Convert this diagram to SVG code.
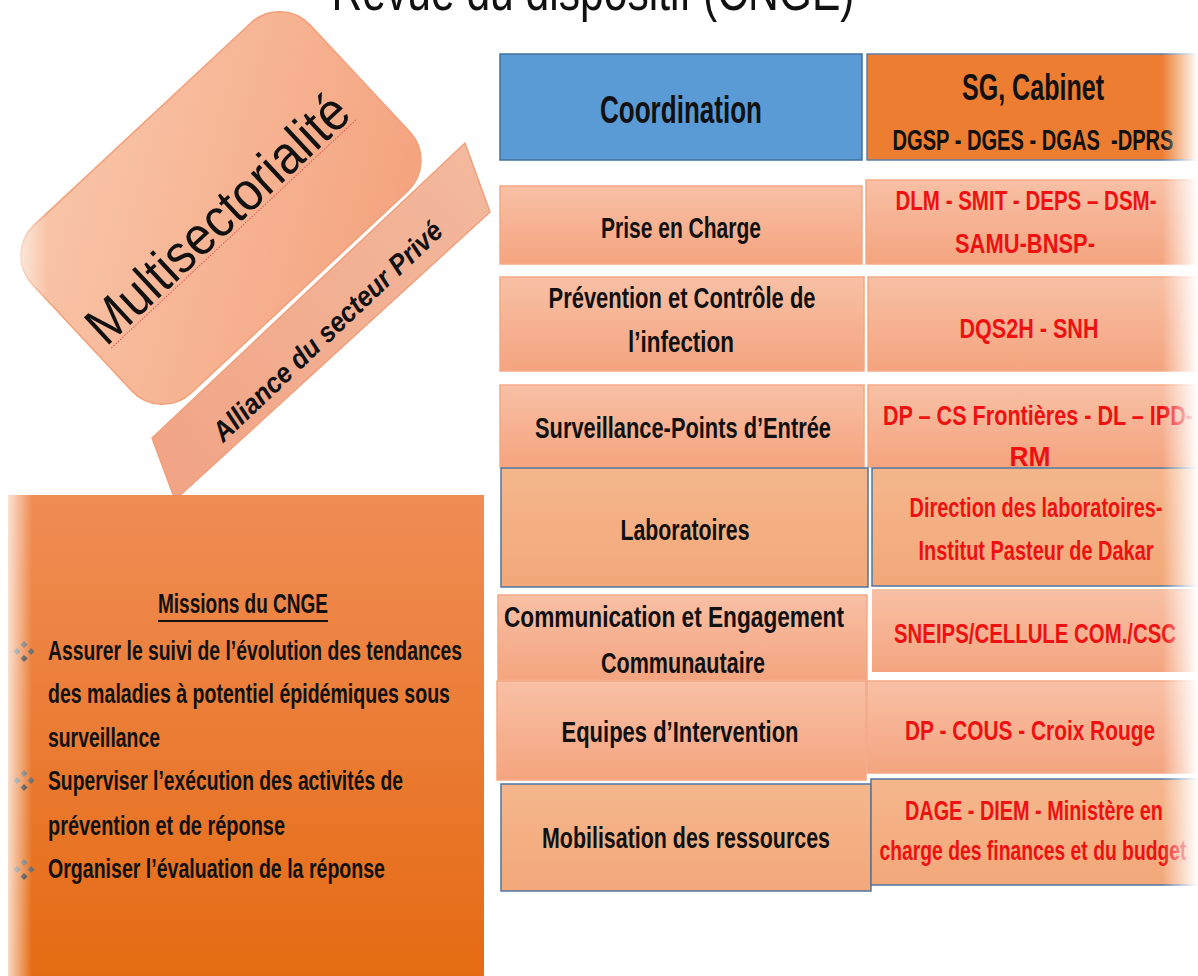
<svg xmlns="http://www.w3.org/2000/svg" width="1198" height="976" viewBox="0 0 1198 976">
<defs>
<linearGradient id="peach" x1="0" y1="0" x2="0" y2="1"><stop offset="0" stop-color="#F8C0A5"/><stop offset="1" stop-color="#F4A47F"/></linearGradient>
<linearGradient id="lab" x1="0" y1="0" x2="0" y2="1"><stop offset="0" stop-color="#F5B68C"/><stop offset="1" stop-color="#F2A879"/></linearGradient>
<linearGradient id="miss" x1="0" y1="0" x2="0" y2="1"><stop offset="0" stop-color="#F08D55"/><stop offset="1" stop-color="#E56A12"/></linearGradient>
<linearGradient id="multi" x1="0" y1="0" x2="1" y2="1"><stop offset="0" stop-color="#F9C7AB"/><stop offset="1" stop-color="#F4A27D"/></linearGradient>
<linearGradient id="alli" x1="1" y1="0" x2="0" y2="1"><stop offset="0" stop-color="#F3B99E"/><stop offset="1" stop-color="#F1A384"/></linearGradient>
<linearGradient id="fadeR" x1="0" y1="0" x2="1" y2="0"><stop offset="0" stop-color="#fff" stop-opacity="0"/><stop offset="1" stop-color="#fff" stop-opacity="1"/></linearGradient>
<linearGradient id="fadeL" x1="0" y1="0" x2="1" y2="0"><stop offset="0" stop-color="#fff" stop-opacity="1"/><stop offset="1" stop-color="#fff" stop-opacity="0"/></linearGradient>
<style>
.t{font-family:"Liberation Sans","Open Sans",sans-serif;fill:#111;}
.b{font-weight:bold;}
.lbl{font-size:29px;text-anchor:middle;font-weight:bold;}
.red{font-family:"Liberation Sans","Open Sans",sans-serif;fill:#EE1111;font-size:28px;text-anchor:middle;font-weight:bold;}
.row{fill:url(#peach);stroke:#F4A984;stroke-width:1.5;}
.rowlab{fill:url(#lab);stroke:#4F75A0;stroke-width:1.5;}
.mis{font-size:27px;font-weight:bold;}
.bd{fill:#6E6E6E;}
</style>
</defs>
<rect width="1198" height="976" fill="#fff"/>

<g id="title">
<text class="t" x="593" y="10" font-size="56" text-anchor="middle" textLength="523" lengthAdjust="spacingAndGlyphs">Revue du dispositif (CNGE)</text>
</g>

<g id="multisectorialite">
<rect x="-190" y="-115" width="380" height="230" rx="42" fill="url(#multi)" stroke="#F2A07A" stroke-width="1.5" transform="translate(221,208) rotate(-43)"/>
<g transform="translate(217,218) rotate(-43)">
<text class="t" x="0" y="19" font-size="54" text-anchor="middle" textLength="338" lengthAdjust="spacingAndGlyphs">Multisectorialité</text>
<line x1="-166" y1="23" x2="169" y2="23" stroke="#E05A5A" stroke-width="1" stroke-dasharray="1.5 1.5"/>
</g>
</g>

<g id="alliance">
<polygon points="152,438 465,143 490,212 175,500" fill="url(#alli)" stroke="#F0A07C" stroke-width="1.5"/>
<text class="t" transform="translate(327,331) rotate(-43.5)" x="0" y="10" font-size="28" font-style="italic" font-weight="bold" text-anchor="middle" textLength="305" lengthAdjust="spacingAndGlyphs">Alliance du secteur Privé</text>
</g>

<g id="missions">
<rect x="8" y="495" width="476" height="490" fill="url(#miss)"/>
<text class="t mis" x="243" y="613" text-anchor="middle" textLength="170" lengthAdjust="spacingAndGlyphs">Missions du CNGE</text>
<line x1="158" y1="621" x2="328" y2="621" stroke="#111" stroke-width="2"/>
<text class="t mis" x="48" y="660" textLength="414" lengthAdjust="spacingAndGlyphs">Assurer le suivi de l’évolution des tendances</text>
<text class="t mis" x="48" y="703" textLength="402" lengthAdjust="spacingAndGlyphs">des maladies à potentiel épidémiques sous</text>
<text class="t mis" x="48" y="747" textLength="112" lengthAdjust="spacingAndGlyphs">surveillance</text>
<text class="t mis" x="48" y="790" textLength="355" lengthAdjust="spacingAndGlyphs">Superviser l’exécution des activités de</text>
<text class="t mis" x="48" y="835" textLength="237" lengthAdjust="spacingAndGlyphs">prévention et de réponse</text>
<text class="t mis" x="48" y="878" textLength="337" lengthAdjust="spacingAndGlyphs">Organiser l’évaluation de la réponse</text>
<g id="bullet1" transform="translate(24,651)"><path class="bd" d="M0,-10 l3.5,3.5 -3.5,3.5 -3.5,-3.5z M-7,-3 l3.5,3.5 -3.5,3.5 -3.5,-3.5z M7,-3 l3.5,3.5 -3.5,3.5 -3.5,-3.5z"/><path fill="#3A3A3A" d="M0,4 l3.5,3.5 -3.5,3.5 -3.5,-3.5z"/></g>
<g id="bullet2" transform="translate(24,780)"><path class="bd" d="M0,-10 l3.5,3.5 -3.5,3.5 -3.5,-3.5z M-7,-3 l3.5,3.5 -3.5,3.5 -3.5,-3.5z M7,-3 l3.5,3.5 -3.5,3.5 -3.5,-3.5z"/><path fill="#3A3A3A" d="M0,4 l3.5,3.5 -3.5,3.5 -3.5,-3.5z"/></g>
<g id="bullet3" transform="translate(24,869)"><path class="bd" d="M0,-10 l3.5,3.5 -3.5,3.5 -3.5,-3.5z M-7,-3 l3.5,3.5 -3.5,3.5 -3.5,-3.5z M7,-3 l3.5,3.5 -3.5,3.5 -3.5,-3.5z"/><path fill="#3A3A3A" d="M0,4 l3.5,3.5 -3.5,3.5 -3.5,-3.5z"/></g>
</g>

<g id="row-coordination">
<rect x="500" y="54" width="362" height="106" fill="#5B9BD5" stroke="#41719C" stroke-width="1.5"/>
<text class="t b" x="681" y="123" font-size="38" text-anchor="middle" textLength="162" lengthAdjust="spacingAndGlyphs">Coordination</text>
<rect x="867" y="54" width="340" height="106" fill="#ED7D31" stroke="#5B7FA8" stroke-width="1.5"/>
<text class="t b" x="1033" y="100" font-size="37" text-anchor="middle" textLength="142" lengthAdjust="spacingAndGlyphs">SG, Cabinet</text>
<text class="t b" x="1033" y="150" font-size="29" text-anchor="middle" textLength="281" lengthAdjust="spacingAndGlyphs" xml:space="preserve">DGSP - DGES - DGAS  -DPRS</text>
</g>

<g id="row-prise">
<rect class="row" x="500" y="186" width="362" height="78"/>
<text class="t lbl" x="681" y="238" textLength="160" lengthAdjust="spacingAndGlyphs">Prise en Charge</text>
<rect class="row" x="866" y="180" width="340" height="84"/>
<text class="red" x="1026" y="210" textLength="261" lengthAdjust="spacingAndGlyphs">DLM - SMIT - DEPS – DSM-</text>
<text class="red" x="1025" y="253" textLength="140" lengthAdjust="spacingAndGlyphs">SAMU-BNSP-</text>
</g>

<g id="row-prevention">
<rect class="row" x="500" y="277" width="364" height="94"/>
<text class="t lbl" x="682" y="308" textLength="267" lengthAdjust="spacingAndGlyphs">Prévention et Contrôle de</text>
<text class="t lbl" x="681" y="352" textLength="106" lengthAdjust="spacingAndGlyphs">l’infection</text>
<rect class="row" x="868" y="277" width="340" height="94"/>
<text class="red" x="1029" y="338" textLength="139" lengthAdjust="spacingAndGlyphs">DQS2H - SNH</text>
</g>

<g id="row-surveillance">
<rect class="row" x="500" y="385" width="364" height="82"/>
<text class="t lbl" x="683" y="438" textLength="296" lengthAdjust="spacingAndGlyphs">Surveillance-Points d’Entrée</text>
<rect class="row" x="868" y="385" width="340" height="82"/>
<text class="red" x="1038" y="425" textLength="310" lengthAdjust="spacingAndGlyphs">DP – CS Frontières - DL – IPD-</text>
<text class="red" x="1030" y="466" textLength="41" lengthAdjust="spacingAndGlyphs">RM</text>
</g>

<g id="row-laboratoires">
<rect class="rowlab" x="501" y="468" width="367" height="119"/>
<text class="t lbl" x="685" y="540" textLength="129" lengthAdjust="spacingAndGlyphs">Laboratoires</text>
<rect class="rowlab" x="872" y="468" width="336" height="118"/>
<text class="red" x="1036" y="517" textLength="253" lengthAdjust="spacingAndGlyphs">Direction des laboratoires-</text>
<text class="red" x="1036" y="560" textLength="235" lengthAdjust="spacingAndGlyphs">Institut Pasteur de Dakar</text>
</g>

<g id="row-communication">
<rect class="row" x="498" y="595" width="369" height="85"/>
<text class="t lbl" x="674" y="627" textLength="340" lengthAdjust="spacingAndGlyphs">Communication et Engagement</text>
<text class="t lbl" x="683" y="673" textLength="164" lengthAdjust="spacingAndGlyphs">Communautaire</text>
<rect x="871" y="588" width="337" height="85" fill="url(#peach)" stroke="#fff" stroke-width="2"/>
<text class="red" x="1035" y="643" textLength="282" lengthAdjust="spacingAndGlyphs">SNEIPS/CELLULE COM./CSC</text>
</g>

<g id="row-equipes">
<rect class="row" x="497" y="681" width="369" height="99"/>
<text class="t lbl" x="680" y="742" textLength="237" lengthAdjust="spacingAndGlyphs">Equipes d’Intervention</text>
<rect class="row" x="867" y="681" width="340" height="92"/>
<text class="red" x="1030" y="740" textLength="250" lengthAdjust="spacingAndGlyphs">DP - COUS - Croix Rouge</text>
</g>

<g id="row-mobilisation">
<rect class="rowlab" x="501" y="784" width="370" height="107"/>
<text class="t lbl" x="686" y="848" textLength="288" lengthAdjust="spacingAndGlyphs">Mobilisation des ressources</text>
<rect class="rowlab" x="871" y="779" width="337" height="106"/>
<text class="red" x="1034" y="820" textLength="258" lengthAdjust="spacingAndGlyphs">DAGE - DIEM - Ministère en</text>
<text class="red" x="1033" y="860" textLength="307" lengthAdjust="spacingAndGlyphs">charge des finances et du budget</text>
</g>

<g id="connectors"></g>

<g id="fades">
<rect x="1162" y="40" width="36" height="870" fill="url(#fadeR)"/>
<rect x="0" y="160" width="48" height="200" fill="url(#fadeL)"/>
<rect x="0" y="490" width="32" height="486" fill="url(#fadeL)"/>
</g>
</svg>
